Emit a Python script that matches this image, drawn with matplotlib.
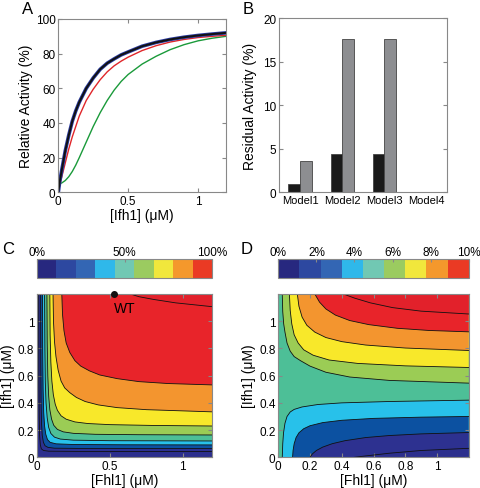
import matplotlib
matplotlib.use("Agg")
import matplotlib.pyplot as plt
from matplotlib.colors import ListedColormap, Normalize
from matplotlib.cm import ScalarMappable

plt.rcParams['font.family'] = ['Liberation Sans', 'DejaVu Sans']
plt.rcParams['font.size'] = 9

# panel A - relative activity curves
ifh1 = [0, 0.01, 0.025, 0.05, 0.075, 0.1, 0.125, 0.15, 0.2, 0.25, 0.3, 0.35, 0.4, 0.45,
        0.5, 0.6, 0.7, 0.8, 0.9, 1.0, 1.1, 1.2]
act_wt = [0, 6, 13, 24, 33, 41, 47, 52, 60, 66, 71, 74.5, 77, 79.3,
          81, 84.3, 86.5, 88.2, 89.5, 90.5, 91.3, 92]
act_red = [1, 4, 9, 17, 25, 32, 38, 44, 53, 59.5, 65, 69.5, 73, 75.7,
           78, 81.8, 84.6, 86.7, 88.2, 89.3, 90, 90.6]
act_green = [5, 5, 5.4, 6.8, 9, 12, 15.7, 20, 29, 38, 46, 53, 59, 64,
             68, 74, 78.5, 82.3, 85.2, 87.4, 88.9, 90]

# panel B - residual activity
models = ['Model1', 'Model2', 'Model3', 'Model4']
resid_black = [0.9, 4.4, 4.4, 0]
resid_gray = [3.6, 17.6, 17.6, 0]

# panel C - contour lines of relative activity (Fhl1 x, Ifh1 y), bottom to top
c_lines_x = [
    [0.012, 0.013, 0.015, 0.018, 0.023, 0.03, 0.045, 0.08, 0.3, 1.2],
    [0.025, 0.026, 0.028, 0.031, 0.036, 0.044, 0.055, 0.075, 0.12, 0.3, 1.2],
    [0.038, 0.039, 0.042, 0.046, 0.052, 0.06, 0.072, 0.09, 0.13, 0.25, 0.6, 1.2],
    [0.052, 0.054, 0.057, 0.062, 0.07, 0.08, 0.095, 0.12, 0.16, 0.25, 0.5, 1.2],
    [0.068, 0.07, 0.074, 0.08, 0.088, 0.1, 0.115, 0.14, 0.18, 0.25, 0.4, 0.7, 1.2],
    [0.088, 0.09, 0.095, 0.102, 0.112, 0.125, 0.14, 0.165, 0.2, 0.26, 0.35, 0.5, 0.8, 1.2],
    [0.11, 0.113, 0.12, 0.13, 0.145, 0.165, 0.19, 0.225, 0.27, 0.33, 0.42, 0.55, 0.75, 1.2],
    [0.17, 0.175, 0.185, 0.2, 0.225, 0.26, 0.3, 0.36, 0.43, 0.55, 0.7, 0.9, 1.2],
    [0.64, 0.7, 0.8, 0.95, 1.2],
]
c_lines_y = [
    [1.2, 0.6, 0.3, 0.16, 0.09, 0.062, 0.05, 0.045, 0.043, 0.042],
    [1.2, 0.7, 0.4, 0.25, 0.16, 0.11, 0.085, 0.073, 0.067, 0.065, 0.064],
    [1.2, 0.8, 0.5, 0.33, 0.23, 0.17, 0.13, 0.11, 0.099, 0.094, 0.092, 0.091],
    [1.2, 0.8, 0.55, 0.4, 0.29, 0.22, 0.175, 0.148, 0.134, 0.126, 0.122, 0.12],
    [1.2, 0.85, 0.6, 0.45, 0.35, 0.28, 0.235, 0.205, 0.187, 0.176, 0.169, 0.166, 0.164],
    [1.2, 0.9, 0.7, 0.56, 0.46, 0.39, 0.345, 0.305, 0.28, 0.26, 0.248, 0.24, 0.234, 0.23],
    [1.2, 1.0, 0.85, 0.74, 0.64, 0.56, 0.51, 0.475, 0.44, 0.41, 0.385, 0.365, 0.35, 0.334],
    [1.2, 1.05, 0.93, 0.84, 0.77, 0.71, 0.67, 0.635, 0.605, 0.578, 0.556, 0.542, 0.532],
    [1.2, 1.18, 1.16, 1.135, 1.107],
]
wt_point = (0.53, 1.2)

# panel D - contour lines of residual activity
# lower lines run from the bottom edge to the right edge
d_low_x = [
    [0.48, 0.55, 0.7, 0.9, 1.2],
    [0.2, 0.215, 0.24, 0.28, 0.34, 0.42, 0.55, 0.7, 0.9, 1.2],
    [0.09, 0.093, 0.1, 0.112, 0.13, 0.16, 0.2, 0.28, 0.4, 0.6, 0.9, 1.2],
    [0.025, 0.028, 0.033, 0.042, 0.055, 0.075, 0.1, 0.15, 0.25, 0.4, 0.7, 1.2],
]
d_low_y = [
    [0, 0.01, 0.03, 0.05, 0.066],
    [0, 0.025, 0.05, 0.075, 0.1, 0.122, 0.145, 0.16, 0.172, 0.182],
    [0, 0.05, 0.1, 0.145, 0.18, 0.21, 0.232, 0.255, 0.272, 0.286, 0.295, 0.3],
    [0, 0.1, 0.18, 0.25, 0.3, 0.333, 0.352, 0.37, 0.388, 0.4, 0.41, 0.42],
]
# upper lines run from the top edge to the right edge
d_up_x = [
    [0.025, 0.028, 0.034, 0.042, 0.055, 0.075, 0.1, 0.14, 0.2, 0.3, 0.45, 0.7, 1.2],
    [0.07, 0.075, 0.085, 0.1, 0.125, 0.16, 0.22, 0.32, 0.5, 0.8, 1.2],
    [0.12, 0.13, 0.15, 0.18, 0.23, 0.3, 0.4, 0.55, 0.8, 1.2],
    [0.23, 0.26, 0.3, 0.36, 0.45, 0.57, 0.75, 0.95, 1.2],
    [0.41, 0.48, 0.58, 0.72, 0.9, 1.2],
]
d_up_y = [
    [1.2, 1.07, 0.98, 0.92, 0.84, 0.78, 0.74, 0.71, 0.67, 0.625, 0.59, 0.565, 0.545],
    [1.2, 1.08, 0.98, 0.9, 0.84, 0.79, 0.75, 0.715, 0.69, 0.672, 0.66],
    [1.2, 1.11, 1.03, 0.97, 0.92, 0.88, 0.85, 0.825, 0.803, 0.785],
    [1.2, 1.14, 1.09, 1.045, 1.005, 0.975, 0.948, 0.932, 0.922],
    [1.2, 1.17, 1.135, 1.1, 1.074, 1.053],
]

band_colors = ['#2c2f8d', '#2d3190', '#0c51a1', '#28c1ea', '#4dbf97',
               '#9bcc55', '#f8e82a', '#f3952f', '#e8242a', '#e2212b']
cbar_colors = ['#27287f', '#2d48a0', '#3366b4', '#2fb8ea', '#71c8b3',
               '#9bcb60', '#f1e73c', '#f4982c', '#ea3a24']

edge = '#888888'
TICK = 8.5
W, H = 481, 489
fig = plt.figure(figsize=(W / 100, H / 100), dpi=100)


def box(l, t, r, b):
    return [l / W, 1 - b / H, (r - l) / W, (b - t) / H]


def style(ax):
    for s in ax.spines.values():
        s.set_color(edge)
        s.set_linewidth(0.8)
    ax.tick_params(direction='in', length=3, color=edge, labelsize=TICK,
                   top=True, right=True, pad=2)


XMAX = 1.2

# ---- A
axA = fig.add_axes(box(58.3, 20, 226, 193.3))
axA.plot(ifh1, act_green, color='#1a9a3a', lw=1)
axA.plot(ifh1, act_red, color='#e0262a', lw=1)
axA.plot(ifh1, act_wt, color='#2a3aa0', lw=2.6)
axA.plot(ifh1, act_wt, color='#111111', lw=1.4)
axA.set_xlim(0, XMAX)
axA.set_ylim(0, 100)
axA.set_xticks([0, 0.5, 1])
axA.set_xticklabels(['0', '0.5', '1'])
axA.set_yticks([0, 20, 40, 60, 80, 100])
axA.set_xlabel('[Ifh1] (\u03bcM)', fontsize=10, labelpad=1)
axA.set_ylabel('Relative Activity (%)', fontsize=10, labelpad=2)
style(axA)
fig.text(28 / W, 1 - 9 / H, 'A', fontsize=12, ha='center', va='center')

# ---- B
axB = fig.add_axes(box(279, 19.3, 447.3, 193.3))
pos = range(1, len(models) + 1)
axB.bar([p - 0.14 for p in pos], resid_black, width=0.27, color='#1a1a1a', edgecolor='#444444', lw=0.6)
axB.bar([p + 0.14 for p in pos], resid_gray, width=0.27, color='#8d8e91', edgecolor='#444444', lw=0.6)
axB.set_xlim(0.5, 4.5)
axB.set_ylim(0, 20)
axB.set_xticks(list(pos))
axB.set_xticklabels(models)
axB.set_yticks([0, 5, 10, 15, 20])
axB.set_ylabel('Residual Activity (%)', fontsize=10, labelpad=4)
style(axB)
axB.tick_params(axis='x', length=0, labelsize=8)
fig.text(248 / W, 1 - 9 / H, 'B', fontsize=12, ha='center', va='center')

# ---- C
axC = fig.add_axes(box(37, 295, 212, 458.3))
axC.fill([0, XMAX, XMAX, 0], [0, 0, 1.2, 1.2], color=band_colors[9], lw=0)
for k in range(len(c_lines_x) - 1, -1, -1):
    xs = c_lines_x[k] + [XMAX, 0, 0]
    ys = c_lines_y[k] + [0, 0, 1.2]
    axC.fill(xs, ys, color=band_colors[k], lw=0)
for k in range(len(c_lines_x)):
    axC.plot(c_lines_x[k], c_lines_y[k], color='#111111', lw=0.6)
axC.plot(*wt_point, 'o', color='#111111', ms=4, clip_on=False, zorder=5)
axC.text(wt_point[0] + 0.07, 1.1, 'WT', fontsize=10, ha='center', va='center')
axC.set_xlim(0, XMAX)
axC.set_ylim(0, 1.2)
axC.set_xticks([0, 0.5, 1])
axC.set_xticklabels(['0', '0.5', '1'])
axC.set_yticks([0, 0.2, 0.4, 0.6, 0.8, 1])
axC.set_yticklabels(['0', '0.2', '0.4', '0.6', '0.8', '1'])
axC.set_xlabel('[Fhl1] (\u03bcM)', fontsize=10, labelpad=1)
axC.set_ylabel('[Ifh1] (\u03bcM)', fontsize=10, labelpad=2)
style(axC)
fig.text(8 / W, 1 - 250 / H, 'C', fontsize=12, ha='center', va='center')

caxC = fig.add_axes(box(37, 260, 212, 279))
cbC = fig.colorbar(ScalarMappable(norm=Normalize(0, 100), cmap=ListedColormap(cbar_colors)),
                   cax=caxC, orientation='horizontal')
caxC.xaxis.set_ticks_position('top')
cbC.set_ticks([0, 50, 100])
cbC.set_ticklabels(['0%', '50%', '100%'])
cbC.outline.set_edgecolor(edge)
caxC.tick_params(direction='in', length=2, color=edge, labelsize=TICK, pad=1)

# ---- D
axD = fig.add_axes(box(278.3, 295, 468.7, 458.3))
axD.fill([0, XMAX, XMAX, 0], [0, 0, 1.2, 1.2], color=band_colors[4], lw=0)
for k in range(len(d_low_x) - 1, -1, -1):
    axD.fill(d_low_x[k] + [XMAX], d_low_y[k] + [0], color=band_colors[k], lw=0)
for k in range(len(d_up_x)):
    axD.fill(d_up_x[k] + [XMAX], d_up_y[k] + [1.2], color=band_colors[k + 5], lw=0)
for xs, ys in list(zip(d_low_x, d_low_y)) + list(zip(d_up_x, d_up_y)):
    axD.plot(xs, ys, color='#111111', lw=0.6)
axD.set_xlim(0, XMAX)
axD.set_ylim(0, 1.2)
axD.set_xticks([0, 0.2, 0.4, 0.6, 0.8, 1])
axD.set_xticklabels(['0', '0.2', '0.4', '0.6', '0.8', '1'])
axD.set_yticks([0, 0.2, 0.4, 0.6, 0.8, 1])
axD.set_yticklabels(['0', '0.2', '0.4', '0.6', '0.8', '1'])
axD.set_xlabel('[Fhl1] (\u03bcM)', fontsize=10, labelpad=1)
axD.set_ylabel('[Ifh1] (\u03bcM)', fontsize=10, labelpad=2)
style(axD)
fig.text(247 / W, 1 - 250 / H, 'D', fontsize=12, ha='center', va='center')

caxD = fig.add_axes(box(278.3, 260, 468.7, 279))
cbD = fig.colorbar(ScalarMappable(norm=Normalize(0, 10), cmap=ListedColormap(cbar_colors)),
                   cax=caxD, orientation='horizontal')
caxD.xaxis.set_ticks_position('top')
cbD.set_ticks([0, 2, 4, 6, 8, 10])
cbD.set_ticklabels(['0%', '2%', '4%', '6%', '8%', '10%'])
cbD.outline.set_edgecolor(edge)
caxD.tick_params(direction='in', length=2, color=edge, labelsize=TICK, pad=1)

fig.savefig('out.png', dpi=100)
